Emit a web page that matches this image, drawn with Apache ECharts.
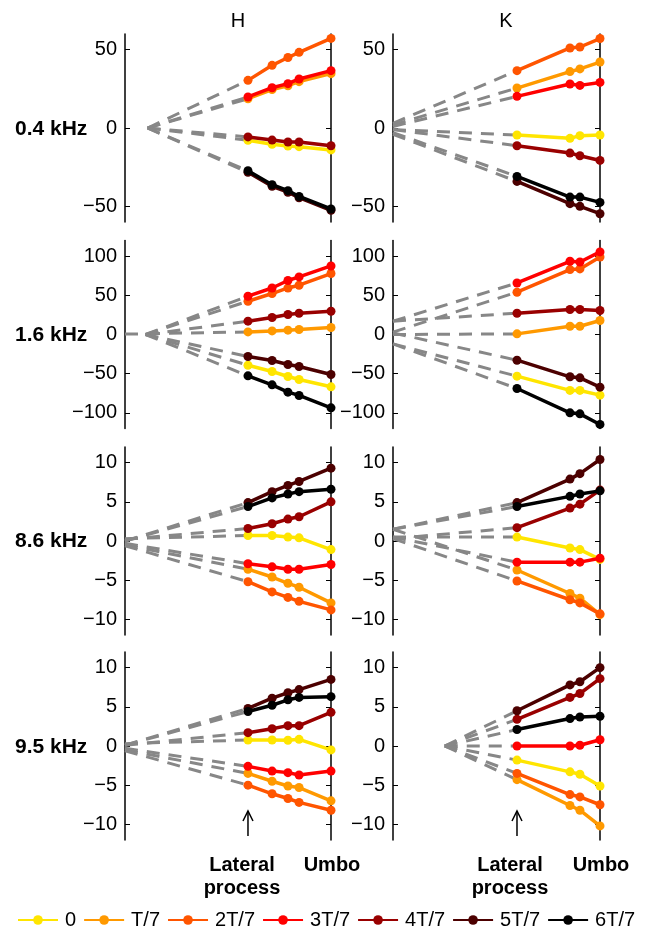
<!DOCTYPE html>
<html>
<head>
<meta charset="utf-8">
<script src="https://cdn.jsdelivr.net/npm/echarts@6/dist/echarts.min.js"></script>
<style>
html,body{margin:0;padding:0;background:#fff;}
#chart{width:652px;height:928px;}
</style>
</head>
<body>
<div id="chart"></div>
<script>
// ---------------- data ----------------
const seriesNames = ['0', 'T/7', '2T/7', '3T/7', '4T/7', '5T/7', '6T/7'];
const columnTitles = ['H', 'K'];
const rowLabels = ['0.4 kHz', '1.6 kHz', '8.6 kHz', '9.5 kHz'];
// positions along the manubrium (0 = axis edge, 100 = umbo)
const positionsH = [59.7, 71.4, 79.1, 84.5, 100];
const positionsK = [59.9, 85.5, 90.3, 100];
const yLimits = [60, 120, 12, 12];
const tickValues = [[-50, 0, 50], [-100, -50, 0, 50, 100], [-10, -5, 0, 5, 10], [-10, -5, 0, 5, 10]];
const arrowRange = [-11.5, -8.3];

// values: one row per series (0, T/7, ..., 6T/7)
const H_0p4 = [
  [-7.8, -10.4, -11.5, -11.9, -14.0],
  [18.7, 24.5, 27.0, 29.6, 34.7],
  [30.4, 40.0, 45.0, 48.3, 57.2],
  [19.8, 25.7, 28.3, 31.3, 36.6],
  [-5.7, -7.7, -8.9, -8.9, -11.3],
  [-28.3, -37.2, -41.0, -44.5, -52.5],
  [-27.3, -36.2, -40.0, -43.7, -51.7]
];
const K_0p4 = [
  [-4.5, -6.6, -4.9, -4.5],
  [25.5, 36.0, 37.7, 42.1],
  [36.6, 51.1, 51.7, 57.1],
  [20.2, 28.1, 27.2, 29.1],
  [-11.3, -16.0, -17.7, -20.7],
  [-34.1, -48.3, -50.0, -54.7],
  [-30.9, -44.1, -44.1, -47.5]
];
const H_1p6 = [
  [-39.2, -47.2, -53.6, -57.4, -66.8],
  [3.3, 4.6, 5.5, 6.4, 8.9],
  [42.5, 52.3, 59.4, 62.9, 77.8],
  [48.9, 59.4, 68.9, 73.5, 87.5],
  [17.0, 21.7, 25.5, 27.2, 29.7],
  [-28.1, -33.2, -38.3, -40.8, -51.0],
  [-52.8, -64.3, -73.6, -77.8, -93.6]
];
const K_1p6 = [
  [-53.2, -71.4, -71.4, -77.4],
  [0.8, 10.6, 10.6, 17.9],
  [54.0, 82.9, 83.7, 99.0],
  [65.8, 93.5, 92.6, 105.4],
  [27.2, 31.9, 31.9, 30.6],
  [-32.8, -54.0, -55.3, -67.2],
  [-68.9, -100.0, -101.3, -114.8]
];
const H_8p6 = [
  [0.7, 0.7, 0.5, 0.4, -1.1],
  [-3.6, -4.6, -5.4, -5.9, -7.9],
  [-5.2, -6.5, -7.2, -7.7, -8.8],
  [-2.9, -3.3, -3.6, -3.6, -3.0],
  [1.6, 2.2, 2.8, 3.1, 5.0],
  [4.9, 6.3, 7.1, 7.6, 9.3],
  [4.4, 5.5, 6.0, 6.3, 6.6]
];
const K_8p6 = [
  [0.5, -0.9, -1.1, -2.35],
  [-3.7, -6.7, -7.3, -9.4],
  [-5.1, -7.5, -7.9, -9.3],
  [-2.7, -2.7, -2.7, -2.2],
  [1.7, 4.2, 4.7, 6.5],
  [4.9, 7.9, 8.6, 10.4],
  [4.4, 5.7, 6.0, 6.4]
];
const H_9p5 = [
  [0.77, 0.77, 0.73, 0.85, -0.5],
  [-3.5, -4.5, -5.1, -5.3, -7.0],
  [-5.0, -6.1, -6.7, -7.2, -8.2],
  [-2.6, -3.2, -3.4, -3.7, -3.2],
  [1.7, 2.2, 2.6, 2.6, 4.3],
  [4.8, 6.1, 6.8, 7.2, 8.5],
  [4.4, 5.2, 5.9, 6.2, 6.3]
];
const K_9p5 = [
  [-1.8, -3.3, -3.6, -5.1],
  [-4.3, -7.6, -8.2, -10.2],
  [-3.5, -6.2, -6.5, -7.5],
  [0.0, 0.0, 0.1, 0.8],
  [3.4, 6.2, 6.7, 8.6],
  [4.5, 7.8, 8.2, 10.0],
  [2.1, 3.5, 3.7, 3.8]
];

// extrapolation lines (dashed): start point of each line (x, y); they end at the lateral-process value
const dashStartX_H = [
  [11, 11, 11, 11, 11, 11, 11],
  [10, 0, 10, 10, 10, 10, 10],
  [0, 0, 0, 0, 0, 0, 0],
  [0, 0, 0, 0, 0, 0, 0]
];
const dashStartY_H = [
  [0, 0, 0, 0, 0, 0, 0],
  [0, 0.5, 0, 0, 0, 0, 0],
  [0.3, -0.5, -0.6, -0.3, 0.2, 0, 0],
  [0.3, -0.5, -0.6, -0.3, 0.1, 0.1, 0.1]
];
const dashStartX_K = [
  [0, 0, 0, 0, 0, 0, 0],
  [0, 0, 0, 0, 0, 0, 0],
  [0, 0, 0, 0, 0, 0, 0],
  [25, 25, 25, 25, 25, 25, 25]
];
const dashStartY_K = [
  [-1, 2, 3, 1, -1, -4, -3],
  [-12, 0, 3, 17, 17, 2, -12],
  [0.5, 1.5, 0.3, 0.5, 0.3, 1.5, 1.5],
  [0, 0, 0, 0, 0, 0, 0]
];

// ---------------- style / layout ----------------
const colors = ['#FFE500', '#FF9900', '#FF5500', '#FF0000', '#990000', '#4C0000', '#000000'];
const FONT = '"Liberation Sans", Arial, Helvetica, sans-serif';
const colLeft = [125, 393];
const colWidth = [206, 207];
const rowTop = [34, 240.5, 447, 652];
const rowHeight = 188;

const panels = [
  [H_0p4, K_0p4], [H_1p6, K_1p6], [H_8p6, K_8p6], [H_9p5, K_9p5]
];
const positions = [positionsH, positionsK];
const dashX = [dashStartX_H, dashStartX_K];
const dashY = [dashStartY_H, dashStartY_K];

const minus = v => String(v).replace('-', '\u2212');

const grid = [], xAxis = [], yAxis = [], series = [];
let gi = 0;
for (let r = 0; r < 4; r++) {
  for (let c = 0; c < 2; c++) {
    grid.push({ left: colLeft[c], top: rowTop[r], width: colWidth[c], height: rowHeight });
    xAxis.push({ gridIndex: gi, type: 'value', min: 0, max: 100, show: false });
    const lim = yLimits[r];
    yAxis.push({
      gridIndex: gi, type: 'value', min: -lim, max: lim, position: 'left',
      axisLine: { show: true, lineStyle: { color: '#000', width: 1.5 } },
      axisTick: { show: true, inside: true, length: 5, customValues: tickValues[r], lineStyle: { color: '#000', width: 1 } },
      axisLabel: { show: true, customValues: tickValues[r], formatter: minus, color: '#000', fontSize: 20, fontFamily: FONT, margin: 8 },
      splitLine: { show: false }
    });
    yAxis.push({
      gridIndex: gi, type: 'value', min: -lim, max: lim, position: 'right',
      axisLine: { show: true, onZero: false, lineStyle: { color: '#000', width: 1.5 } },
      axisTick: { show: true, inside: true, length: 5, customValues: tickValues[r], lineStyle: { color: '#000', width: 1 } },
      axisLabel: { show: false },
      splitLine: { show: false }
    });
    const xs = positions[c];
    const vals = panels[r][c];
    // dashed extrapolation lines
    for (let s = 0; s < 7; s++) {
      series.push({
        type: 'line', xAxisIndex: gi, yAxisIndex: gi * 2, silent: true, z: 1,
        symbol: 'none', clip: true,
        lineStyle: { color: '#878787', width: 3, type: [13, 9] },
        data: [[dashX[c][r][s], dashY[c][r][s]], [xs[0], vals[s][0]]]
      });
    }
    // measured lines
    for (let s = 0; s < 7; s++) {
      series.push({
        name: seriesNames[s], type: 'line', xAxisIndex: gi, yAxisIndex: gi * 2, z: 2 + s,
        clip: false, symbol: 'circle', symbolSize: 9, color: colors[s],
        lineStyle: { color: colors[s], width: 3.5 },
        itemStyle: { color: colors[s] },
        data: xs.map((x, i) => [x, vals[s][i]])
      });
    }
    if (r === 3) {
      series.push({
        type: 'custom', xAxisIndex: gi, yAxisIndex: gi * 2, clip: false, silent: true, z: 20,
        encode: { x: 0, y: [1, 2] },
        data: [[xs[0], arrowRange[0], arrowRange[1]]],
        renderItem: function (params, api) {
          const p1 = api.coord([api.value(0), api.value(1)]);
          const p2 = api.coord([api.value(0), api.value(2)]);
          return {
            type: 'group', children: [
              { type: 'line', shape: { x1: p1[0], y1: p1[1], x2: p2[0], y2: p2[1] }, style: { stroke: '#000', lineWidth: 1.5 } },
              { type: 'polyline', shape: { points: [[p2[0] - 5, p2[1] + 10], [p2[0], p2[1]], [p2[0] + 5, p2[1] + 10]] }, style: { stroke: '#000', fill: null, lineWidth: 1.5 } }
            ]
          };
        }
      });
    }
    gi++;
  }
}

const graphic = [];
const titleX = [238, 506];
columnTitles.forEach((t, c) => graphic.push({
  type: 'text', x: titleX[c], y: 21,
  style: { text: t, font: '20px ' + FONT, fill: '#000', align: 'center', verticalAlign: 'middle' }
}));
const rowZero = [128.3, 334.4, 540, 746];
rowLabels.forEach((t, r) => graphic.push({
  type: 'text', x: 15, y: rowZero[r] + 1,
  style: { text: t, font: 'bold 21px ' + FONT, fill: '#000', verticalAlign: 'middle', align: 'left' }
}));
const lpX = [242, 510], umboX = [332, 601];
for (let c = 0; c < 2; c++) {
  graphic.push({ type: 'text', x: lpX[c], y: 876.5, style: { text: 'Lateral\nprocess', font: 'bold 20px ' + FONT, fill: '#000', align: 'center', verticalAlign: 'middle', lineHeight: 23 } });
  graphic.push({ type: 'text', x: umboX[c], y: 865, style: { text: 'Umbo', font: 'bold 20px ' + FONT, fill: '#000', align: 'center', verticalAlign: 'middle' } });
}

const option = {
  animation: false,
  backgroundColor: '#fff',
  grid, xAxis, yAxis, series, graphic,
  legend: {
    data: seriesNames, left: 12, top: 905, itemWidth: 40, itemHeight: 12, itemGap: 7,
    textStyle: { fontSize: 20, fontFamily: FONT, color: '#000', padding: [0, 0, 0, 2] }
  }
};
const chart = echarts.init(document.getElementById('chart'), null, { renderer: 'canvas' });
chart.setOption(option);
</script>
</body>
</html>
